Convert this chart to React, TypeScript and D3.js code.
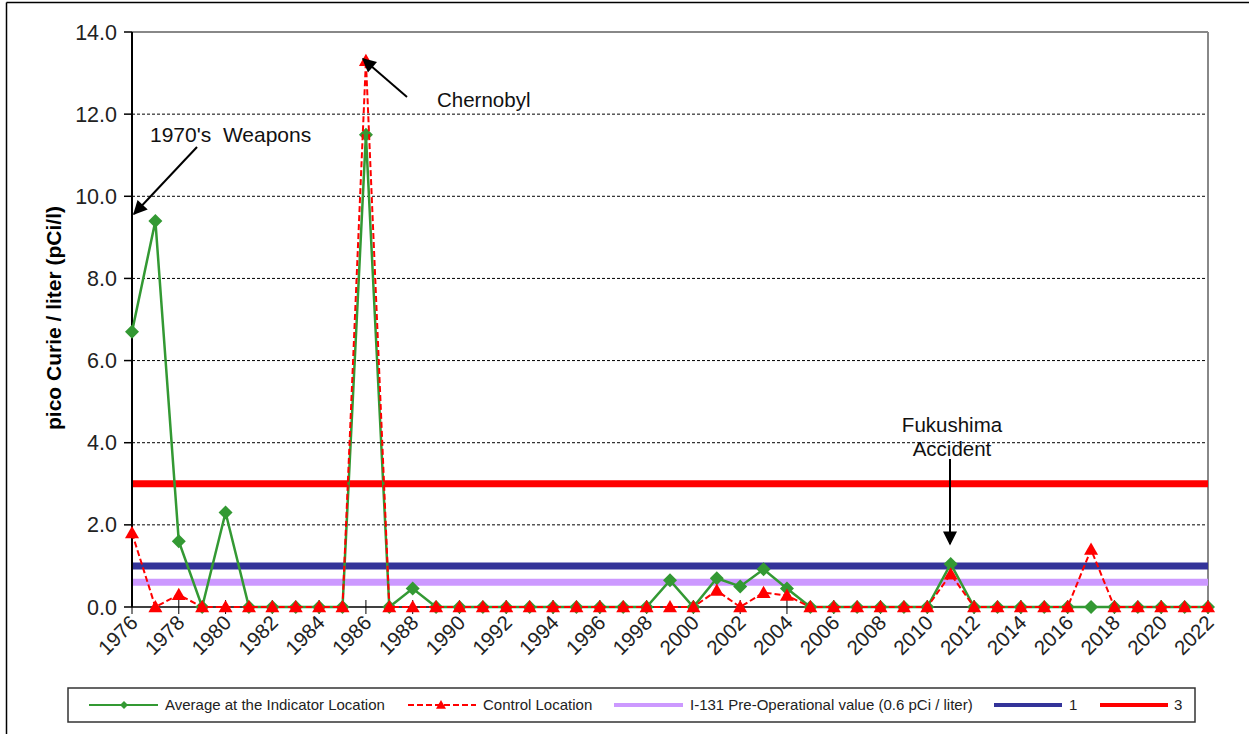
import React from "react";
import * as d3 from "d3";

const years: number[] = d3.range(1976, 2023);
const indicator: number[] = [
  6.7, 9.4, 1.6, 0, 2.3, 0, 0, 0, 0, 0, 11.5, 0, 0.45, 0, 0, 0, 0, 0, 0, 0, 0, 0, 0,
  0.65, 0, 0.7, 0.5, 0.92, 0.45, 0, 0, 0, 0, 0, 0, 1.05, 0, 0, 0, 0, 0, 0, 0, 0, 0, 0, 0,
];
const control: number[] = [
  1.8, 0, 0.3, 0, 0, 0, 0, 0, 0, 0, 13.3, 0, 0, 0, 0, 0, 0, 0, 0, 0, 0, 0, 0,
  0, 0, 0.4, 0, 0.35, 0.28, 0, 0, 0, 0, 0, 0, 0.8, 0, 0, 0, 0, 0, 1.4, 0, 0, 0, 0, 0,
];
const refLines = [
  { value: 0.6, label: "I-131 Pre-Operational value (0.6 pCi / liter)", color: "#CC99FF" },
  { value: 1, label: "1", color: "#333399" },
  { value: 3, label: "3", color: "#FF0000" },
];
const yTicks: number[] = d3.range(0, 14.01, 2);
const xTickYears: number[] = d3.range(1976, 2023, 2);

const W = 1250;
const H = 734;
const M = { left: 132, right: 1208, top: 32, bottom: 607 };
const FONT = "'Liberation Sans', Arial, sans-serif";
const GREEN = "#339933";
const RED = "#FF0000";

export default function App() {
  const x = d3.scaleLinear().domain([1976, 2022]).range([M.left, M.right]);
  const y = d3.scaleLinear().domain([0, 14]).range([M.bottom, M.top]);
  const line = d3
    .line<number>()
    .x((_, i) => x(years[i]))
    .y((d) => y(d));

  const diamond = (cx: number, cy: number, r = 7) =>
    `M${cx},${cy - r}L${cx + r},${cy}L${cx},${cy + r}L${cx - r},${cy}Z`;
  const tri = (cx: number, cy: number, s = 7) =>
    `M${cx},${cy - s}L${cx + s},${cy + s * 0.75}L${cx - s},${cy + s * 0.75}Z`;

  return (
    <svg width={W} height={H} style={{ position: "absolute", left: 0, top: 0, background: "#fff" }} fontFamily={FONT}>
      <defs>
        <marker id="ah" viewBox="0 0 10 10" refX="9" refY="5" markerWidth="7.5" markerHeight="7" orient="auto" markerUnits="strokeWidth">
          <path d="M0,0L10,5L0,10Z" fill="#000" />
        </marker>
      </defs>
      <rect x={0} y={0} width={W} height={H} fill="#fff" />
      {/* outer frame */}
      <line x1={6.5} y1={2.5} x2={1249} y2={2.5} stroke="#000" strokeWidth={1.5} />
      <line x1={6.5} y1={2.5} x2={6.5} y2={H} stroke="#000" strokeWidth={1.5} />

      {/* gridlines */}
      {yTicks.filter((t) => t > 0 && t < 14).map((t) => (
        <line key={t} x1={M.left} x2={M.right} y1={y(t)} y2={y(t)} stroke="#000" strokeWidth={1} strokeDasharray="3,2" />
      ))}
      {/* plot border top/right */}
      <line x1={M.left} x2={M.right} y1={M.top} y2={M.top} stroke="#888" strokeWidth={2} />
      <line x1={M.right} x2={M.right} y1={M.top} y2={M.bottom} stroke="#888" strokeWidth={2} />

      {/* reference lines */}
      {refLines.map((r) => (
        <line key={r.label} x1={M.left} x2={M.right} y1={y(r.value)} y2={y(r.value)} stroke={r.color} strokeWidth={7} />
      ))}

      {/* axes */}
      <line x1={M.left} x2={M.left} y1={M.top} y2={M.bottom} stroke="#000" strokeWidth={2} />
      <line x1={M.left} x2={M.right} y1={M.bottom} y2={M.bottom} stroke="#000" strokeWidth={1.5} />
      {yTicks.map((t) => (
        <g key={t}>
          <line x1={M.left - 8} x2={M.left} y1={y(t)} y2={y(t)} stroke="#000" strokeWidth={1.5} />
          <text x={M.left - 15} y={y(t) + 7.5} textAnchor="end" fontSize={21.5} fill="#222">
            {t.toFixed(1)}
          </text>
        </g>
      ))}
      {xTickYears.map((yr) => (
        <g key={yr}>
          <line x1={x(yr)} x2={x(yr)} y1={M.bottom - 7} y2={M.bottom + 7} stroke="#000" strokeWidth={1} />
          <text
            transform={`translate(${x(yr) + 7},${M.bottom + 17}) rotate(-45)`}
            textAnchor="end"
            fontSize={20.5}
            fill="#222"
          >
            {yr}
          </text>
        </g>
      ))}
      <text
        transform={`translate(61,318) rotate(-90)`}
        textAnchor="middle"
        fontSize={21}
        fontWeight="bold"
        fill="#000"
      >
        pico Curie / liter (pCi/l)
      </text>

      {/* series */}
      <path d={line(indicator) || ""} fill="none" stroke={GREEN} strokeWidth={2.5} />
      {indicator.map((v, i) => (
        <path key={i} d={diamond(x(years[i]), y(v))} fill={GREEN} />
      ))}
      <path d={line(control) || ""} fill="none" stroke={RED} strokeWidth={2} strokeDasharray="6,3" />
      {control.map((v, i) => (
        <path key={i} d={tri(x(years[i]), y(v))} fill={RED} />
      ))}

      {/* annotations */}
      <text x={150} y={142} fontSize={21} fill="#111" xmlSpace="preserve">1970's  Weapons</text>
      <line x1={197} y1={147} x2={134} y2={214} stroke="#000" strokeWidth={2} markerEnd="url(#ah)" />
      <text x={437} y={107} fontSize={20.5} fill="#111">Chernobyl</text>
      <line x1={407} y1={97} x2={363} y2={59} stroke="#000" strokeWidth={2} markerEnd="url(#ah)" />
      <text x={952} y={432} fontSize={20.5} fill="#111" textAnchor="middle">Fukushima</text>
      <text x={952} y={456} fontSize={20.5} fill="#111" textAnchor="middle">Accident</text>
      <line x1={950} y1={459} x2={950} y2={544} stroke="#000" strokeWidth={2} markerEnd="url(#ah)" />

      {/* legend */}
      <rect x={68} y={688} width={1127} height={34} fill="#fff" stroke="#333" strokeWidth={1.5} />
      <line x1={89} x2={158} y1={705} y2={705} stroke={GREEN} strokeWidth={2} />
      <path d={diamond(124, 705, 4)} fill={GREEN} />
      <text x={165} y={710} fontSize={15} fill="#222">Average at the Indicator Location</text>
      <line x1={408} x2={476} y1={705} y2={705} stroke={RED} strokeWidth={2} strokeDasharray="6,3" />
      <path d={tri(441, 705, 5)} fill={RED} />
      <text x={483} y={710} fontSize={15} fill="#222">Control Location</text>
      {[
        { x1: 614, x2: 683, tx: 690 },
        { x1: 994, x2: 1062, tx: 1069 },
        { x1: 1100, x2: 1168, tx: 1174 },
      ].map((p, i) => (
        <g key={i}>
          <line x1={p.x1} x2={p.x2} y1={705} y2={705} stroke={refLines[i].color} strokeWidth={4} />
          <text x={p.tx} y={710} fontSize={15} fill="#222">{refLines[i].label}</text>
        </g>
      ))}
    </svg>
  );
}
